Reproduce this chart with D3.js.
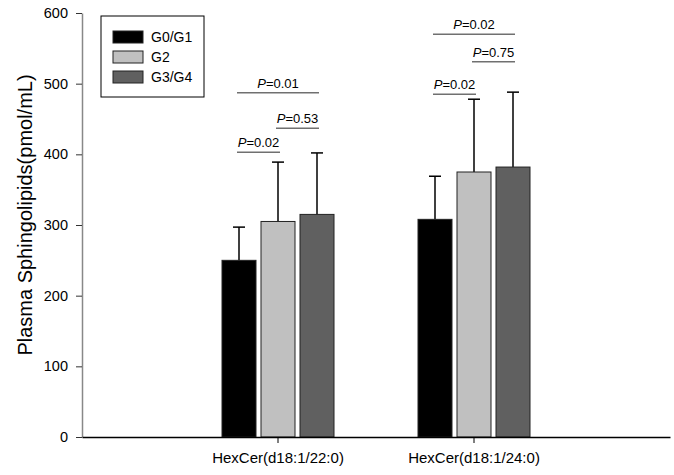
<!DOCTYPE html>
<html>
<head>
<meta charset="utf-8">
<script src="https://cdn.jsdelivr.net/npm/d3@7/dist/d3.min.js"></script>
<style>
html,body{margin:0;padding:0;background:#fff;}
text{font-family:"Liberation Sans", Arial, sans-serif;}
</style>
</head>
<body>
<svg id="chart" width="674" height="475"></svg>
<script>
const categories = ["HexCer(d18:1/22:0)", "HexCer(d18:1/24:0)"];
const groups = ["G0/G1", "G2", "G3/G4"];
const means = {
  "G0/G1": [250, 308],
  "G2": [305, 375],
  "G3/G4": [315, 382]
};
const upperErr = {
  "G0/G1": [47, 61],
  "G2": [84, 103],
  "G3/G4": [87, 106]
};
const yTicks = [0, 100, 200, 300, 400, 500, 600];
// significance brackets: category index, from group, to group, y level, label
const sigCat = [0, 0, 0, 1, 1, 1];
const sigFrom = ["G0/G1", "G2", "G0/G1", "G0/G1", "G2", "G0/G1"];
const sigTo = ["G2", "G3/G4", "G3/G4", "G2", "G3/G4", "G3/G4"];
const sigLevel = [403, 437, 487, 485, 531, 570];
const sigP = ["0.02", "0.53", "0.01", "0.02", "0.75", "0.02"];

const colors = {"G0/G1": "#000000", "G2": "#c0c0c0", "G3/G4": "#606060"};

const svg = d3.select("#chart");
const mLeft = 82, mRight = 670, mTop = 13, mBottom = 437;

const y = d3.scaleLinear().domain([0, 600]).range([mBottom, mTop]);
const x0 = d3.scaleBand().domain(categories).range([mLeft, mRight]).paddingInner(0).paddingOuter(0.5);
const x1 = d3.scaleBand().domain(groups).range([0, x0.bandwidth()]).paddingInner(5/39).paddingOuter(42/39);

// bars
categories.forEach((c, i) => {
  groups.forEach(g => {
    const bx = x0(c) + x1(g);
    const v = means[g][i];
    const cx = bx + x1.bandwidth() / 2;
    svg.append("line").attr("x1", cx).attr("x2", cx)
      .attr("y1", y(v)).attr("y2", y(v + upperErr[g][i]))
      .attr("stroke", "#000").attr("stroke-width", 1.5);
    svg.append("line").attr("x1", cx - 6).attr("x2", cx + 6)
      .attr("y1", y(v + upperErr[g][i])).attr("y2", y(v + upperErr[g][i]))
      .attr("stroke", "#000").attr("stroke-width", 1.5);
    svg.append("rect").attr("x", bx).attr("y", y(v))
      .attr("width", x1.bandwidth()).attr("height", y(0) - y(v))
      .attr("fill", colors[g]).attr("stroke", "#222").attr("stroke-width", 1);
  });
});

// significance
sigCat.forEach((ci, k) => {
  const c = categories[ci];
  const xa = x0(c) + x1(sigFrom[k]) + x1.bandwidth() / 2 - 2;
  const xb = x0(c) + x1(sigTo[k]) + x1.bandwidth() / 2 + 2;
  const yy = y(sigLevel[k]);
  svg.append("line").attr("x1", xa).attr("x2", xb).attr("y1", yy).attr("y2", yy)
    .attr("stroke", "#707070").attr("stroke-width", 1.5);
  const t = svg.append("text").attr("x", (xa + xb) / 2).attr("y", yy - 5)
    .attr("text-anchor", "middle").attr("font-size", 13).attr("fill", "#000");
  t.append("tspan").attr("font-style", "italic").text("P");
  t.append("tspan").text("=" + sigP[k]);
});

// y axis
const yAxis = d3.axisLeft(y).tickValues(yTicks).tickSize(6).tickSizeOuter(0);
const ga = svg.append("g").attr("transform", `translate(${mLeft},0)`).call(yAxis);
ga.select(".domain").attr("stroke", "#888").attr("stroke-width", 1.5);
ga.selectAll(".tick line").attr("stroke", "#333");
ga.selectAll(".tick text").attr("font-size", 14.5).attr("font-family", "Liberation Sans, Arial, sans-serif").attr("fill", "#000").attr("x", -14);

// x axis
const xAxis = d3.axisBottom(x0).tickSize(6).tickSizeOuter(0);
const gx = svg.append("g").attr("transform", `translate(0,${mBottom})`).call(xAxis);
gx.select(".domain").attr("stroke", "#000").attr("stroke-width", 1.5);
gx.selectAll(".tick text").attr("font-size", 15).attr("font-family", "Liberation Sans, Arial, sans-serif").attr("fill", "#000").attr("dy", "1.15em");

// y label
svg.append("text").attr("transform", `translate(32,215) rotate(-90)`)
  .attr("text-anchor", "middle").attr("font-size", 20).attr("fill", "#000")
  .text("Plasma Sphingolipids(pmol/mL)");

// legend
const lg = svg.append("g");
lg.append("rect").attr("x", 101).attr("y", 16).attr("width", 103).attr("height", 81)
  .attr("fill", "#fff").attr("stroke", "#000").attr("stroke-width", 1);
groups.forEach((g, i) => {
  lg.append("rect").attr("x", 113).attr("y", 31 + i * 20).attr("width", 30).attr("height", 12)
    .attr("fill", colors[g]).attr("stroke", "#222").attr("stroke-width", 1);
  lg.append("text").attr("x", 151).attr("y", 37.5 + i * 20).attr("dy", "0.35em")
    .attr("font-size", 14).attr("fill", "#000").text(g);
});
</script>
</body>
</html>
